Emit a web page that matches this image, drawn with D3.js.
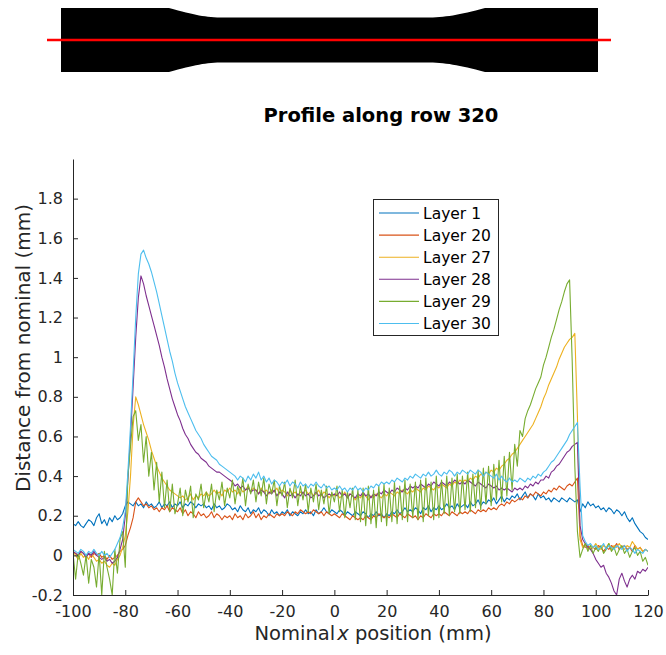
<!DOCTYPE html>
<html>
<head>
<meta charset="utf-8">
<script src="https://cdn.jsdelivr.net/npm/d3@7"></script>
<style>
  html, body { margin: 0; padding: 0; background: #fff; }
  svg { display: block; font-family: "DejaVu Sans", Verdana, sans-serif; }
</style>
</head>
<body>
<div id="chartDiv"></div>
<script>
'use strict';

// sampling grid along the row (mm)
const positions = d3.range(-100, 120.5, 1);

const layerNames = ['Layer 1', 'Layer 20', 'Layer 27', 'Layer 28', 'Layer 29', 'Layer 30'];
const layerColors = ['#0072BD', '#D95319', '#EDB120', '#7E2F8E', '#77AC30', '#4DBEEE'];

const layer1 = [
  0.16,0.15,0.17,0.15,0.14,0.16,0.18,0.17,0.15,0.19,
  0.21,0.16,0.18,0.15,0.19,0.17,0.20,0.18,0.19,0.21,
  0.25,0.27,0.26,0.25,0.27,0.25,0.26,0.24,0.27,0.25,
  0.26,0.24,0.25,0.27,0.24,0.26,0.25,0.27,0.24,0.26,
  0.25,0.27,0.24,0.26,0.25,0.27,0.26,0.24,0.26,0.25,
  0.26,0.24,0.25,0.23,0.26,0.24,0.25,0.23,0.24,0.26,
  0.25,0.23,0.24,0.22,0.25,0.23,0.22,0.24,0.21,0.23,
  0.22,0.24,0.21,0.23,0.22,0.20,0.23,0.21,0.22,0.20,
  0.22,0.21,0.23,0.20,0.22,0.21,0.20,0.22,0.21,0.23,
  0.21,0.22,0.20,0.23,0.21,0.22,0.24,0.22,0.21,0.23,
  0.22,0.21,0.23,0.22,0.20,0.22,0.21,0.20,0.22,0.21,
  0.20,0.22,0.21,0.19,0.21,0.20,0.22,0.20,0.21,0.19,
  0.21,0.20,0.22,0.21,0.23,0.21,0.22,0.24,0.22,0.23,
  0.22,0.24,0.23,0.21,0.24,0.23,0.25,0.22,0.24,0.23,
  0.25,0.23,0.24,0.26,0.24,0.25,0.23,0.26,0.24,0.25,
  0.26,0.24,0.27,0.25,0.26,0.28,0.25,0.27,0.26,0.28,
  0.27,0.29,0.26,0.28,0.30,0.27,0.29,0.28,0.30,0.29,
  0.31,0.28,0.30,0.32,0.29,0.31,0.30,0.28,0.31,0.29,
  0.30,0.28,0.29,0.27,0.29,0.28,0.27,0.29,0.28,0.27,
  0.29,0.28,0.27,0.28,0.22,0.26,0.24,0.27,0.25,0.26,
  0.24,0.25,0.23,0.24,0.22,0.24,0.23,0.21,0.23,0.22,
  0.20,0.22,0.19,0.17,0.19,0.16,0.14,0.12,0.11,0.09,
  0.08
];

const layer20 = [
  0.02,0.01,0.00,0.02,0.01,0.00,0.01,-0.01,0.01,0.00,
  0.01,-0.01,0.00,-0.02,0.00,-0.02,-0.01,0.00,0.02,0.03,
  0.05,0.10,0.14,0.19,0.27,0.29,0.27,0.25,0.26,0.24,
  0.25,0.23,0.24,0.22,0.24,0.23,0.25,0.22,0.24,0.23,
  0.22,0.24,0.21,0.23,0.20,0.22,0.21,0.19,0.22,0.20,
  0.21,0.19,0.20,0.22,0.19,0.21,0.20,0.18,0.20,0.19,
  0.20,0.18,0.21,0.19,0.20,0.18,0.21,0.19,0.20,0.22,
  0.19,0.21,0.18,0.20,0.19,0.21,0.20,0.19,0.21,0.20,
  0.21,0.20,0.22,0.21,0.20,0.22,0.21,0.23,0.22,0.21,
  0.22,0.21,0.23,0.22,0.21,0.22,0.20,0.22,0.21,0.20,
  0.21,0.20,0.19,0.21,0.20,0.19,0.18,0.20,0.19,0.18,
  0.19,0.18,0.20,0.19,0.18,0.20,0.19,0.21,0.20,0.19,
  0.20,0.19,0.21,0.20,0.19,0.21,0.20,0.19,0.21,0.20,
  0.19,0.20,0.18,0.20,0.19,0.21,0.20,0.19,0.21,0.20,
  0.21,0.20,0.22,0.21,0.20,0.22,0.21,0.20,0.22,0.21,
  0.22,0.21,0.23,0.22,0.21,0.23,0.22,0.23,0.22,0.24,
  0.23,0.24,0.23,0.25,0.26,0.25,0.27,0.26,0.28,0.27,
  0.28,0.29,0.28,0.30,0.29,0.31,0.30,0.32,0.31,0.30,
  0.32,0.31,0.33,0.32,0.34,0.33,0.35,0.34,0.33,0.35,
  0.36,0.35,0.37,0.39,0.10,0.05,0.04,0.05,0.03,0.04,
  0.03,0.05,0.04,0.02,0.04,0.03,0.05,0.04,0.06,0.03,
  0.04,0.05,0.03,0.04,0.02,0.05,0.03,0.04,0.02,0.03,
  0.02
];

const layer27 = [
  0.02,0.00,-0.02,0.01,-0.01,0.00,-0.02,0.01,-0.01,-0.03,
  -0.02,-0.04,-0.03,-0.05,-0.06,-0.04,-0.05,-0.02,0.00,0.04,
  0.10,0.22,0.40,0.65,0.80,0.76,0.71,0.66,0.62,0.58,
  0.53,0.49,0.45,0.42,0.39,0.37,0.35,0.33,0.32,0.31,
  0.30,0.29,0.30,0.28,0.29,0.31,0.28,0.30,0.29,0.31,
  0.30,0.32,0.30,0.31,0.33,0.31,0.32,0.30,0.33,0.32,
  0.34,0.32,0.33,0.31,0.34,0.32,0.33,0.35,0.32,0.34,
  0.33,0.31,0.34,0.32,0.33,0.31,0.33,0.32,0.34,0.31,
  0.33,0.32,0.30,0.33,0.31,0.32,0.30,0.32,0.31,0.33,
  0.31,0.32,0.30,0.31,0.33,0.30,0.32,0.31,0.29,0.31,
  0.30,0.31,0.29,0.30,0.32,0.29,0.31,0.30,0.28,0.30,
  0.29,0.31,0.30,0.28,0.30,0.29,0.31,0.30,0.29,0.31,
  0.30,0.32,0.31,0.30,0.32,0.31,0.33,0.32,0.31,0.33,
  0.32,0.34,0.33,0.32,0.34,0.33,0.35,0.34,0.33,0.35,
  0.34,0.36,0.35,0.34,0.36,0.35,0.37,0.36,0.38,0.37,
  0.38,0.37,0.39,0.38,0.40,0.39,0.41,0.40,0.42,0.41,
  0.43,0.42,0.44,0.43,0.45,0.46,0.48,0.49,0.51,0.52,
  0.54,0.56,0.58,0.60,0.62,0.64,0.66,0.69,0.72,0.75,
  0.79,0.82,0.86,0.89,0.92,0.95,0.99,1.02,1.05,1.07,
  1.09,1.10,1.12,0.70,0.08,0.04,0.06,0.03,0.05,0.04,
  0.06,0.04,0.03,0.05,0.04,0.06,0.03,0.05,0.04,0.06,
  0.04,0.03,0.05,0.04,0.07,0.05,0.03,0.04,0.02,0.03,
  0.02
];

const layer28 = [
  0.02,0.01,0.00,0.02,0.01,-0.01,0.01,0.00,0.02,0.00,
  -0.01,-0.02,-0.01,-0.03,-0.02,-0.04,-0.03,-0.01,0.03,0.08,
  0.20,0.38,0.60,0.85,1.10,1.30,1.41,1.37,1.31,1.26,
  1.21,1.16,1.11,1.06,1.00,0.95,0.89,0.84,0.79,0.75,
  0.71,0.68,0.64,0.61,0.59,0.56,0.54,0.52,0.51,0.49,
  0.48,0.47,0.45,0.44,0.43,0.42,0.42,0.41,0.40,0.39,
  0.38,0.37,0.35,0.36,0.34,0.35,0.33,0.34,0.32,0.33,
  0.33,0.31,0.33,0.32,0.30,0.32,0.31,0.33,0.30,0.32,
  0.31,0.29,0.32,0.30,0.31,0.29,0.31,0.30,0.32,0.30,
  0.31,0.29,0.30,0.32,0.30,0.31,0.29,0.30,0.31,0.30,
  0.31,0.30,0.32,0.30,0.31,0.29,0.31,0.30,0.29,0.31,
  0.30,0.32,0.30,0.31,0.29,0.31,0.30,0.32,0.31,0.33,
  0.32,0.31,0.33,0.32,0.34,0.33,0.32,0.34,0.33,0.35,
  0.34,0.35,0.34,0.36,0.35,0.34,0.36,0.35,0.37,0.36,
  0.35,0.37,0.36,0.35,0.37,0.36,0.38,0.37,0.36,0.37,
  0.36,0.38,0.37,0.36,0.35,0.37,0.36,0.35,0.34,0.36,
  0.35,0.34,0.35,0.33,0.34,0.33,0.34,0.33,0.32,0.34,
  0.33,0.34,0.33,0.35,0.34,0.36,0.35,0.37,0.36,0.38,
  0.38,0.40,0.39,0.42,0.43,0.45,0.46,0.48,0.50,0.52,
  0.53,0.55,0.56,0.57,0.15,0.08,0.06,0.04,0.03,0.01,
  -0.02,-0.04,-0.06,-0.05,-0.09,-0.11,-0.14,-0.18,-0.20,-0.12,
  -0.09,-0.13,-0.16,-0.12,-0.10,-0.12,-0.08,-0.09,-0.07,-0.08,
  -0.06
];

const layer29 = [
  0.01,-0.12,0.01,-0.04,-0.10,0.00,-0.14,-0.02,-0.06,-0.16,
  0.01,-0.20,0.02,-0.06,-0.12,-0.20,0.03,-0.09,0.08,0.12,
  -0.06,0.40,0.55,0.70,0.73,0.58,0.66,0.47,0.60,0.40,
  0.52,0.33,0.47,0.27,0.42,0.24,0.38,0.22,0.36,0.21,
  0.26,0.34,0.20,0.33,0.27,0.35,0.19,0.31,0.28,0.36,
  0.24,0.32,0.27,0.36,0.22,0.33,0.28,0.37,0.25,0.34,
  0.29,0.38,0.26,0.35,0.30,0.39,0.25,0.36,0.31,0.38,
  0.27,0.37,0.30,0.39,0.26,0.36,0.31,0.38,0.25,0.35,
  0.30,0.37,0.24,0.34,0.29,0.38,0.25,0.35,0.28,0.36,
  0.22,0.34,0.27,0.36,0.23,0.33,0.26,0.35,0.21,0.32,
  0.27,0.35,0.22,0.33,0.19,0.32,0.24,0.34,0.18,0.33,
  0.17,0.34,0.15,0.35,0.16,0.33,0.14,0.35,0.17,0.36,
  0.15,0.34,0.17,0.37,0.16,0.35,0.18,0.38,0.17,0.36,
  0.19,0.37,0.18,0.38,0.17,0.39,0.20,0.37,0.18,0.40,
  0.19,0.38,0.21,0.40,0.20,0.39,0.22,0.41,0.21,0.40,
  0.23,0.42,0.22,0.41,0.24,0.43,0.23,0.44,0.26,0.45,
  0.25,0.46,0.28,0.48,0.27,0.50,0.30,0.52,0.33,0.56,
  0.45,0.63,0.60,0.69,0.73,0.76,0.80,0.84,0.87,0.90,
  0.96,1.00,1.05,1.10,1.14,1.19,1.24,1.28,1.33,1.37,
  1.39,0.98,0.45,0.12,-0.01,0.03,0.06,0.02,0.05,0.01,
  0.04,0.02,0.05,0.01,0.03,0.06,0.02,0.04,0.00,0.03,
  0.05,0.01,0.03,-0.01,0.02,0.04,0.00,0.02,-0.03,-0.01,
  -0.05
];

const layer30 = [
  0.03,0.02,0.01,0.03,0.02,0.00,0.02,0.01,0.03,0.01,
  0.00,0.02,0.00,0.01,-0.01,0.01,0.03,0.06,0.09,0.14,
  0.22,0.42,0.65,0.92,1.20,1.42,1.52,1.54,1.50,1.47,
  1.43,1.38,1.33,1.27,1.21,1.15,1.09,1.03,0.98,0.92,
  0.87,0.83,0.79,0.75,0.72,0.69,0.66,0.63,0.61,0.59,
  0.56,0.54,0.52,0.50,0.49,0.48,0.46,0.45,0.44,0.43,
  0.42,0.41,0.40,0.38,0.40,0.39,0.37,0.40,0.38,0.41,
  0.39,0.42,0.38,0.40,0.37,0.39,0.36,0.38,0.37,0.35,
  0.37,0.36,0.38,0.35,0.37,0.36,0.34,0.37,0.35,0.36,
  0.34,0.36,0.35,0.37,0.35,0.34,0.36,0.34,0.35,0.33,
  0.34,0.33,0.35,0.33,0.34,0.32,0.34,0.33,0.35,0.33,
  0.34,0.32,0.34,0.33,0.35,0.34,0.36,0.35,0.37,0.36,
  0.37,0.36,0.38,0.37,0.39,0.38,0.37,0.39,0.38,0.40,
  0.39,0.41,0.40,0.39,0.41,0.40,0.42,0.40,0.41,0.43,
  0.41,0.40,0.42,0.41,0.43,0.42,0.40,0.42,0.41,0.43,
  0.42,0.41,0.43,0.42,0.41,0.43,0.42,0.40,0.42,0.41,
  0.40,0.39,0.41,0.38,0.40,0.38,0.37,0.39,0.37,0.38,
  0.37,0.39,0.38,0.37,0.39,0.38,0.40,0.39,0.41,0.40,
  0.42,0.43,0.45,0.47,0.48,0.50,0.52,0.54,0.56,0.58,
  0.61,0.63,0.65,0.67,0.35,0.10,0.07,0.05,0.06,0.04,
  0.05,0.03,0.04,0.06,0.03,0.05,0.04,0.03,0.05,0.04,
  0.03,0.05,0.02,0.04,0.03,0.01,0.03,0.02,0.01,0.03,
  0.02
];

const layerValues = [layer1, layer20, layer27, layer28, layer29, layer30];

const xTicks = [-100, -80, -60, -40, -20, 0, 20, 40, 60, 80, 100, 120];
const yTicks = [-0.2, 0, 0.2, 0.4, 0.6, 0.8, 1, 1.2, 1.4, 1.6, 1.8];

const chartTitle = 'Profile along row 320';
const yLabel = 'Distance from nominal (mm)';

const W = 666, H = 655;
const plot = { left: 73, right: 648, top: 159, bottom: 595 };
const axisColor = '#262626';

const svg = d3.select('#chartDiv').append('svg')
  .attr('width', W)
  .attr('height', H);

// specimen silhouette with the sampled row
const drawSpecimen = ()=>{
  const g = svg.append('g');
  const p = d3.path();
  p.moveTo(61, 8);
  p.lineTo(169, 8);
  p.bezierCurveTo(195, 15, 205, 17.5, 224, 17.5);
  p.lineTo(426, 17.5);
  p.bezierCurveTo(445, 17.5, 459, 15, 485, 8);
  p.lineTo(598, 8);
  p.lineTo(598, 72);
  p.lineTo(485, 72);
  p.bezierCurveTo(459, 65, 445, 62.5, 426, 62.5);
  p.lineTo(224, 62.5);
  p.bezierCurveTo(205, 62.5, 195, 65, 169, 72);
  p.lineTo(61, 72);
  p.closePath();
  g.append('path').attr('d', p.toString()).attr('fill', '#000');
  g.append('line')
    .attr('x1', 47).attr('x2', 611)
    .attr('y1', 40).attr('y2', 40)
    .attr('stroke', '#ff0000')
    .attr('stroke-width', 2.6);
};

const xScale = d3.scaleLinear().domain([-100, 120]).range([plot.left, plot.right]);
const yScale = d3.scaleLinear().domain([-0.2, 2.0]).range([plot.bottom, plot.top]);

const drawAxes = ()=>{
  // plain hyphen for negatives, like the original figure
  const xAxis = d3.axisBottom(xScale)
    .tickValues(xTicks)
    .tickSizeInner(-5)
    .tickSizeOuter(0)
    .tickPadding(11)
    .tickFormat(d => String(d));
  const yAxis = d3.axisLeft(yScale)
    .tickValues(yTicks)
    .tickSizeInner(-5)
    .tickSizeOuter(0)
    .tickPadding(10)
    .tickFormat(d => String(d));

  const gx = svg.append('g')
    .attr('transform', `translate(0,${plot.bottom})`)
    .call(xAxis);
  const gy = svg.append('g')
    .attr('transform', `translate(${plot.left},0)`)
    .call(yAxis);

  [gx, gy].forEach(g=>{
    g.select('.domain').attr('stroke', axisColor).attr('stroke-width', 1);
    g.selectAll('.tick line').attr('stroke', axisColor).attr('stroke-width', 1);
    g.selectAll('.tick text')
      .attr('fill', axisColor)
      .style('font-family', '"DejaVu Sans", Verdana, sans-serif')
      .style('font-size', '16px');
  });
};

const drawLayers = ()=>{
  svg.append('clipPath').attr('id', 'plotClip')
    .append('rect')
    .attr('x', plot.left).attr('y', plot.top)
    .attr('width', plot.right - plot.left)
    .attr('height', plot.bottom - plot.top);

  const line = d3.line()
    .x((d, i) => xScale(positions[i]))
    .y(d => yScale(d));

  svg.append('g')
    .attr('clip-path', 'url(#plotClip)')
    .selectAll('path')
    .data(layerValues)
    .join('path')
    .attr('d', line)
    .attr('fill', 'none')
    .attr('stroke', (d, i) => layerColors[i])
    .attr('stroke-width', 1.1)
    .attr('stroke-linejoin', 'round');
};

const drawLegend = ()=>{
  const lg = svg.append('g');
  lg.append('rect')
    .attr('x', 373.5).attr('y', 199.5)
    .attr('width', 125).attr('height', 136)
    .attr('fill', '#fff')
    .attr('stroke', axisColor)
    .attr('stroke-width', 1);

  const rows = lg.selectAll('g.row')
    .data(layerNames)
    .join('g')
    .attr('class', 'row')
    .attr('transform', (d, i) => `translate(0,${213 + i * 22.1})`);

  rows.append('line')
    .attr('x1', 379).attr('x2', 419)
    .attr('y1', 0).attr('y2', 0)
    .attr('stroke', (d, i) => layerColors[i])
    .attr('stroke-width', 1.1);

  rows.append('text')
    .attr('x', 423)
    .attr('y', 0)
    .attr('dy', '0.36em')
    .attr('fill', '#000')
    .style('font-size', '15.5px')
    .text(d => d);
};

const drawLabels = ()=>{
  svg.append('text')
    .attr('x', 381).attr('y', 122)
    .attr('text-anchor', 'middle')
    .attr('fill', '#000')
    .style('font-size', '19.5px')
    .style('font-weight', 'bold')
    .text(chartTitle);

  const xl = svg.append('text')
    .attr('x', 373).attr('y', 640)
    .attr('text-anchor', 'middle')
    .attr('fill', axisColor)
    .style('font-size', '19.5px');
  xl.append('tspan').text('Nominal');
  xl.append('tspan').attr('dx', 2).style('font-style', 'italic').text('x');
  xl.append('tspan').text(' position (mm)');

  svg.append('text')
    .attr('transform', 'translate(30,348) rotate(-90)')
    .attr('text-anchor', 'middle')
    .attr('fill', axisColor)
    .style('font-size', '20px')
    .text(yLabel);
};

drawSpecimen();
drawLayers();
drawAxes();
drawLegend();
drawLabels();
</script>
</body>
</html>
